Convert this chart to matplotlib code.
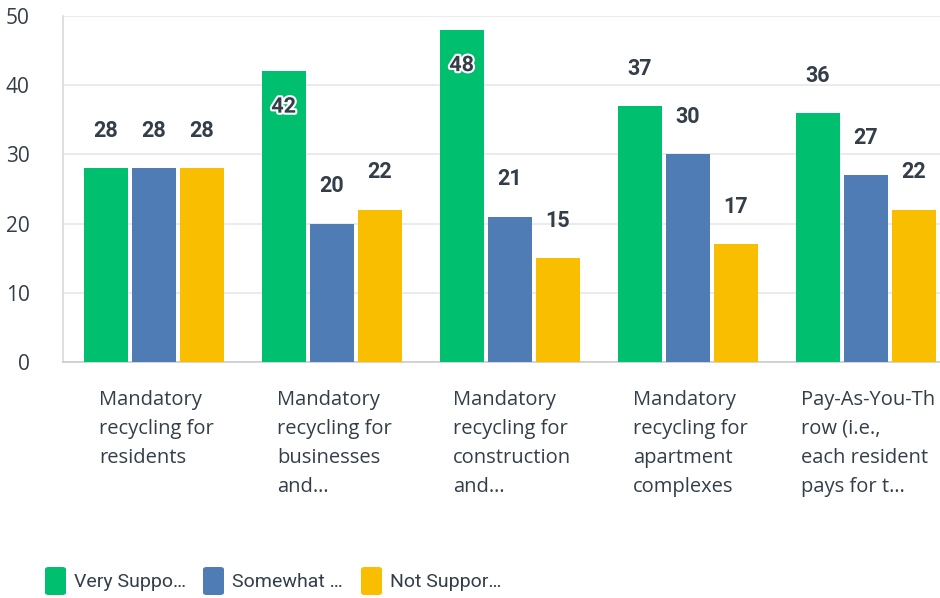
import matplotlib
matplotlib.use("Agg")
import matplotlib.pyplot as plt
import matplotlib.patheffects as pe
from matplotlib.patches import FancyBboxPatch
import numpy as np

categories = [
    "Mandatory\nrecycling for\nresidents",
    "Mandatory\nrecycling for\nbusinesses\nand…",
    "Mandatory\nrecycling for\nconstruction\nand…",
    "Mandatory\nrecycling for\napartment\ncomplexes",
    "Pay-As-You-Th\nrow (i.e.,\neach resident\npays for t…",
]
series_names = ["Very Suppo…", "Somewhat …", "Not Suppor…"]
very = [28, 42, 48, 37, 36]
somewhat = [28, 20, 21, 30, 27]
notsup = [28, 22, 15, 17, 22]
yticks = [0, 10, 20, 30, 40, 50]

colors = ["#00bf6f", "#507cb6", "#f9be00"]
txt = "#333e48"

W, H = 940, 598
fig = plt.figure(figsize=(W / 100, H / 100), dpi=100)
ax_l, ax_r, ax_t, ax_b = 63, 944, 16, 362
ax = fig.add_axes([ax_l / W, 1 - ax_b / H, (ax_r - ax_l) / W, (ax_b - ax_t) / H])

x = np.arange(len(categories))
bw = 0.247
off = 0.27
series = [very, somewhat, notsup]
for k, (vals, c) in enumerate(zip(series, colors)):
    xs = x + (k - 1) * off
    ax.bar(xs, vals, width=bw, color=c, zorder=3)
    for xi, v in zip(xs, vals):
        if v >= 40:
            ax.text(xi, v - 5.1, str(v), ha="center", va="center", fontsize=15.5,
                    fontweight="bold", color=txt, family="Roboto", zorder=4,
                    path_effects=[pe.withStroke(linewidth=3, foreground="white")])
        else:
            ax.text(xi, v + 5.4, str(v), ha="center", va="center", fontsize=15.5,
                    fontweight="bold", color=txt, family="Roboto", zorder=4)

ax.set_xlim(-0.51, 4.44)
ax.set_ylim(0, 50)
ax.set_yticks(yticks)
ax.set_yticklabels([str(t) for t in yticks], fontsize=15, color=txt, family="Open Sans")
ax.tick_params(axis="y", length=0, pad=24)
ax.set_xticks([])
ax.grid(axis="y", color="#e8e8e8", linewidth=1.2, zorder=0)
for s in ["top", "right"]:
    ax.spines[s].set_visible(False)
ax.spines["left"].set_color("#d9d9d9")
ax.spines["bottom"].set_color("#cccccc")
ax.spines["left"].set_linewidth(1.2)
ax.spines["bottom"].set_linewidth(1.2)

for i, lab in enumerate(categories):
    ax.text(i + 0.015, -4.0, lab, ha="center", multialignment="left", va="top",
            fontsize=14.5, color=txt, family="Open Sans", linespacing=1.6,
            clip_on=False)

# legend
lx = [45, 203, 361]
for k in range(3):
    p = FancyBboxPatch(((lx[k]) / W, 1 - 595 / H), 21 / W, 28 / H,
                       boxstyle="round,pad=0,rounding_size=0.004",
                       transform=fig.transFigure, color=colors[k], linewidth=0)
    fig.patches.append(p)
    fig.text((lx[k] + 29) / W, 1 - 582 / H, series_names[k], ha="left", va="center",
             fontsize=14, color=txt, family="Roboto")

fig.savefig("out.png", dpi=100, facecolor="white")
